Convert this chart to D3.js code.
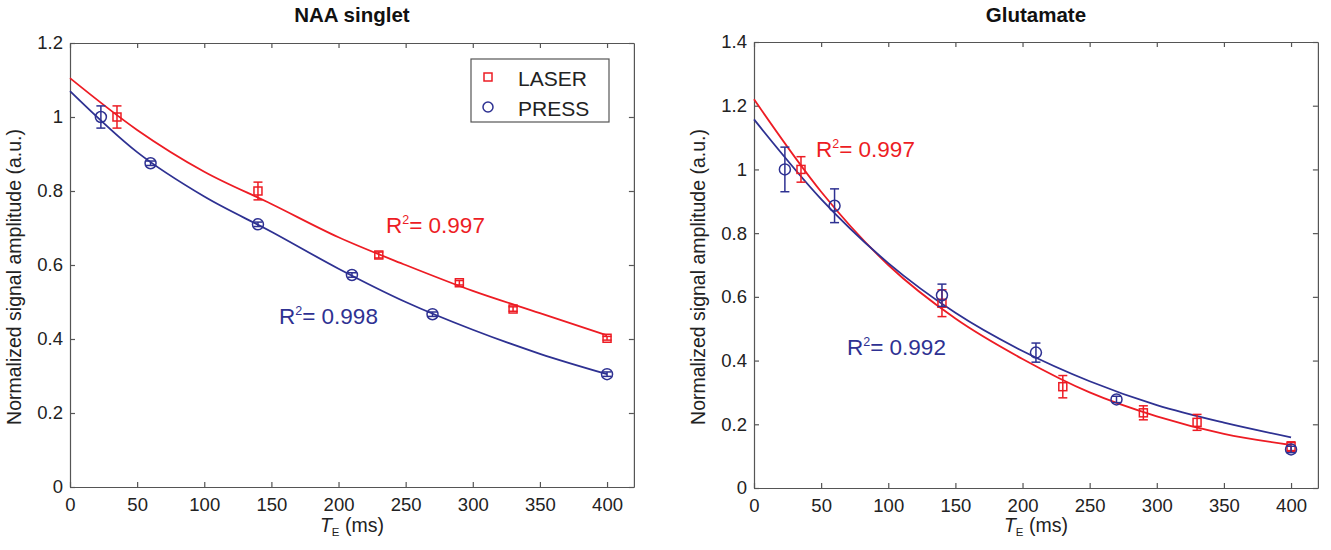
<!DOCTYPE html>
<html>
<head>
<meta charset="utf-8">
<script src="https://cdn.jsdelivr.net/npm/d3@7"></script>
<style>
  body { margin: 0; background: #fff; }
  svg { font-family: "Liberation Sans", Arial, sans-serif; }
</style>
</head>
<body>
<div id="chart"></div>
<script>
// ---- data ----
// NAA singlet
const naaLaserTE = [35, 140, 230, 290, 330, 400];
const naaLaser = [1.0, 0.80, 0.627, 0.552, 0.481, 0.402];
const naaLaserErr = [0.03, 0.024, 0.008, 0.006, 0.006, 0.005];
const naaPressTE = [23, 60, 140, 210, 270, 400];
const naaPress = [1.0, 0.875, 0.71, 0.573, 0.467, 0.305];
const naaPressErr = [0.03, 0.006, 0.006, 0.006, 0.006, 0.006];

// Glutamate
const gluLaserTE = [35, 140, 230, 290, 330, 400];
const gluLaser = [1.0, 0.58, 0.318, 0.236, 0.206, 0.13];
const gluLaserErr = [0.04, 0.042, 0.035, 0.022, 0.025, 0.015];
const gluPressTE = [23, 60, 140, 210, 270, 400];
const gluPress = [1.0, 0.886, 0.605, 0.425, 0.278, 0.121];
const gluPressErr = [0.07, 0.053, 0.035, 0.03, 0.01, 0.01];

// fitted curves
const fitTE = [0, 50, 100, 150, 200, 250, 300, 350, 400];
const naaLaserFit = [1.105, 0.965, 0.852, 0.765, 0.675, 0.60, 0.53, 0.47, 0.41];
const naaPressFit = [1.07, 0.905, 0.785, 0.69, 0.59, 0.50, 0.425, 0.36, 0.305];
const gluLaserFit = [1.22, 0.93, 0.70, 0.532, 0.405, 0.30, 0.225, 0.17, 0.135];
const gluPressFit = [1.157, 0.907, 0.706, 0.55, 0.43, 0.335, 0.26, 0.205, 0.159];

const xTicks = [0, 50, 100, 150, 200, 250, 300, 350, 400];
const naaYTicks = [0, 0.2, 0.4, 0.6, 0.8, 1, 1.2];
const gluYTicks = [0, 0.2, 0.4, 0.6, 0.8, 1, 1.2, 1.4];

const RED = "#ed1c24", BLUE = "#2e3192", AXIS = "#555";

const svg = d3.select("#chart").append("svg")
    .attr("width", 1331)
    .attr("height", 550);

function zip(te, v, e) {
  return te.map((t, i) => ({te: t, v: v[i], e: e ? e[i] : 0}));
}

function drawPanel(p) {
  const x = d3.scaleLinear().domain([0, 420]).range([p.left, p.left + 563.9]);
  const y = d3.scaleLinear().domain([0, p.ymax]).range([p.bottom, p.top]);
  const g = svg.append("g");

  const fmt = d => String(+d.toFixed(1));

  // axes, ticks pointing inward like matlab
  g.append("g").attr("transform", `translate(0,${p.bottom})`)
    .call(d3.axisBottom(x).tickValues(xTicks).tickSize(-5).tickSizeOuter(0).tickPadding(11).tickFormat(fmt));
  g.append("g").attr("transform", `translate(${p.left},0)`)
    .call(d3.axisLeft(y).tickValues(p.yTicks).tickSize(-5).tickSizeOuter(0).tickPadding(7).tickFormat(fmt));
  g.append("g").attr("transform", `translate(0,${p.top})`)
    .call(d3.axisTop(x).tickValues(xTicks).tickSize(-5).tickSizeOuter(0).tickFormat(""));
  g.append("g").attr("transform", `translate(${x(420)},0)`)
    .call(d3.axisRight(y).tickValues(p.yTicks).tickSize(-5).tickSizeOuter(0).tickFormat(""));

  g.selectAll(".domain, .tick line").attr("stroke", AXIS).attr("stroke-width", 1.2);
  g.selectAll(".tick text").attr("font-size", 18.5).attr("fill", "#222")
    .attr("font-family", "Liberation Sans, Arial, sans-serif");

  // fit lines
  const line = d3.line().x(d => x(d.te)).y(d => y(d.v)).curve(d3.curveMonotoneX);
  p.series.forEach(s => {
    g.append("path")
      .datum(zip(fitTE, s.fit))
      .attr("d", line)
      .attr("fill", "none")
      .attr("stroke", s.color)
      .attr("stroke-width", 1.8);
  });

  // error bars + markers
  p.series.forEach(s => {
    const pts = zip(s.te, s.v, s.err);
    const eb = g.append("g").attr("stroke", s.color).attr("stroke-width", 1.5);
    pts.forEach(d => {
      const cx = x(d.te), y0 = y(d.v - d.e), y1 = y(d.v + d.e);
      eb.append("line").attr("x1", cx).attr("x2", cx).attr("y1", y0).attr("y2", y1);
      eb.append("line").attr("x1", cx - 4.5).attr("x2", cx + 4.5).attr("y1", y0).attr("y2", y0);
      eb.append("line").attr("x1", cx - 4.5).attr("x2", cx + 4.5).attr("y1", y1).attr("y2", y1);
    });
    if (s.shape === "square") {
      g.selectAll(null).data(pts).join("rect")
        .attr("x", d => x(d.te) - 4).attr("y", d => y(d.v) - 4)
        .attr("width", 8).attr("height", 8)
        .attr("fill", "none").attr("stroke", s.color).attr("stroke-width", 1.5);
    } else {
      g.selectAll(null).data(pts).join("circle")
        .attr("cx", d => x(d.te)).attr("cy", d => y(d.v)).attr("r", 5.5)
        .attr("fill", "none").attr("stroke", s.color).attr("stroke-width", 1.5);
    }
  });

  // R^2 labels
  p.r2.forEach(r => {
    const t = g.append("text").attr("x", r.x).attr("y", r.y)
      .attr("fill", r.color).attr("font-size", 22.5);
    t.append("tspan").text("R");
    t.append("tspan").attr("font-size", 12.5).attr("dy", -9.5).text("2");
    t.append("tspan").attr("dy", 9.5).text("= " + r.label);
  });

  // title
  const cx = (x(0) + x(420)) / 2;
  g.append("text").attr("x", cx).attr("y", 22)
    .attr("text-anchor", "middle").attr("font-weight", "bold").attr("font-size", 20.5)
    .attr("fill", "#111").text(p.title);

  // x label
  const xl = g.append("text").attr("x", cx).attr("y", 532)
    .attr("text-anchor", "middle").attr("font-size", 19.5).attr("fill", "#222");
  xl.append("tspan").attr("font-style", "italic").text("T");
  xl.append("tspan").attr("font-size", 11.5).attr("dy", 4).text("E");
  xl.append("tspan").attr("dy", -4).text(" (ms)");

  // y label
  g.append("text")
    .attr("transform", `translate(${p.left - 49},${(p.top + p.bottom) / 2 + 12}) rotate(-90)`)
    .attr("text-anchor", "middle").attr("font-size", 19.5).attr("fill", "#222")
    .text("Normalized signal amplitude (a.u.)");

  return {g, x, y};
}

const left = drawPanel({
  left: 70, top: 43, bottom: 487, ymax: 1.2, yTicks: naaYTicks, title: "NAA singlet",
  series: [
    {te: naaLaserTE, v: naaLaser, err: naaLaserErr, fit: naaLaserFit, color: RED, shape: "square"},
    {te: naaPressTE, v: naaPress, err: naaPressErr, fit: naaPressFit, color: BLUE, shape: "circle"}
  ],
  r2: [
    {x: 386, y: 233, color: RED, label: "0.997"},
    {x: 279, y: 324, color: BLUE, label: "0.998"}
  ]
});

drawPanel({
  left: 754, top: 42, bottom: 488, ymax: 1.4, yTicks: gluYTicks, title: "Glutamate",
  series: [
    {te: gluLaserTE, v: gluLaser, err: gluLaserErr, fit: gluLaserFit, color: RED, shape: "square"},
    {te: gluPressTE, v: gluPress, err: gluPressErr, fit: gluPressFit, color: BLUE, shape: "circle"}
  ],
  r2: [
    {x: 816, y: 157, color: RED, label: "0.997"},
    {x: 847, y: 355, color: BLUE, label: "0.992"}
  ]
});

// legend (left panel only)
const lg = left.g.append("g").attr("transform", "translate(471,59)");
lg.append("rect").attr("width", 138).attr("height", 63)
  .attr("fill", "#fff").attr("stroke", AXIS).attr("stroke-width", 1.2);
lg.append("rect").attr("x", 13).attr("y", 14).attr("width", 8).attr("height", 8)
  .attr("fill", "none").attr("stroke", RED).attr("stroke-width", 1.5);
lg.append("circle").attr("cx", 17).attr("cy", 48).attr("r", 5)
  .attr("fill", "none").attr("stroke", BLUE).attr("stroke-width", 1.5);
lg.append("text").attr("x", 47).attr("y", 26.5).attr("font-size", 21).attr("fill", "#222").text("LASER");
lg.append("text").attr("x", 47).attr("y", 56.5).attr("font-size", 21).attr("fill", "#222").text("PRESS");
</script>
</body>
</html>
